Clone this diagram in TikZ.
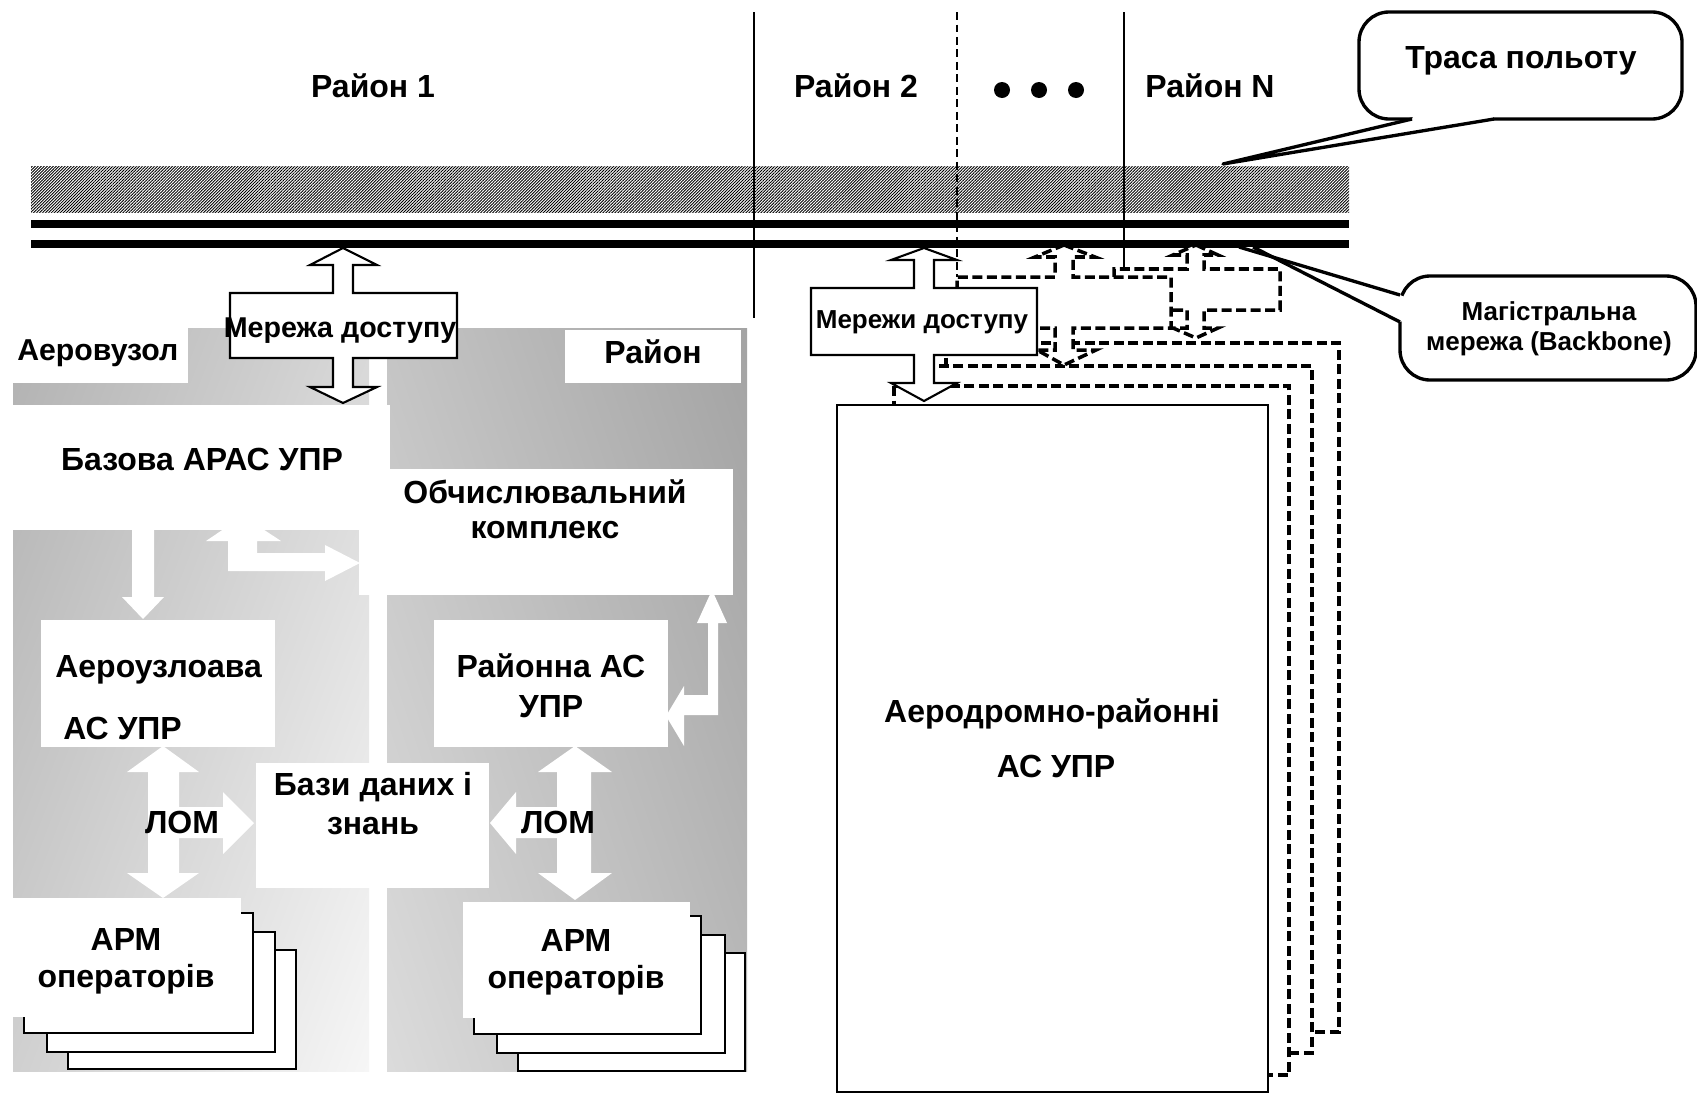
\documentclass[tikz,border=0pt]{standalone}
\usepackage{fontspec}
\setmainfont{Liberation Sans}
\usetikzlibrary{patterns.meta}
\pgfdeclarefunctionalshading{leftgrad}{\pgfpoint{-50bp}{-50bp}}{\pgfpoint{50bp}{50bp}}{}{
  -0.0024 mul exch 0.0030 mul add 0.83 add dup dup
}
\pgfdeclarefunctionalshading{rightgrad}{\pgfpoint{-50bp}{-50bp}}{\pgfpoint{50bp}{50bp}}{}{
  -0.0018 mul exch -0.0026 mul add 0.75 add dup dup
}
\newcommand{\FBig}{\fontsize{18.2}{22}\selectfont\bfseries}
\newcommand{\FLab}{\fontsize{17.2}{21}\selectfont\bfseries}
\newcommand{\FMid}{\fontsize{16.3}{19}\selectfont\bfseries}
\newcommand{\FSml}{\fontsize{14.8}{18}\selectfont\bfseries}
\newcommand{\FCal}{\fontsize{14.8}{18}\selectfont\bfseries}
\begin{document}
\begin{tikzpicture}[x=0.02cm,y=-0.02cm,
  txt/.style={inner sep=0pt, anchor=base, font=\FBig},
  stackbox/.style={fill=white, draw=black, line width=1pt},
  outl/.style={fill=white, draw=black, line width=1.2pt, line join=miter},
  ghost/.style={fill=white, draw=black, line width=2pt, dash pattern=on 0.2cm off 0.09cm},
  callout/.style={fill=white, draw=black, line width=1.9pt},
  tail/.style={draw=black, line width=1.9pt, line join=round}
]
\useasboundingbox (0,0) rectangle (1697,1096);
\fill[white] (0,0) rectangle (1697,1096);

% gradient areas
\shade[shading=leftgrad] (13,328) rectangle (369,1071);
\shade[shading=rightgrad] (387,328) rectangle (747,1071);

% district separators
\draw[line width=1.1pt] (754,12) -- (754,318);
\draw[line width=1.1pt] (1124,12) -- (1124,269);
\draw[line width=1.6pt, dash pattern=on 0.16cm off 0.09cm] (957,12) -- (957,277);

% flight route band and backbone
\fill[pattern={Lines[angle=45,distance=1.2pt,line width=0.5pt]}] (31,166) rectangle (1349,212);
\fill (31,220) rectangle (1349,228);
\fill (31,240) rectangle (1349,248);

% district labels
\node[txt] (r1) at (373,97) {Район 1};
\node[txt] (r2) at (856,97) {Район 2};
\node[txt] (rn) at (1210,97) {Район N};
\fill (1002,90) circle [radius=0.16cm];
\fill (1039,90) circle [radius=0.16cm];
\fill (1076,90) circle [radius=0.16cm];

% ---------- left part ----------
\fill[white] (13,328) rectangle (188,383);
\fill[white] (565,330) rectangle (741,383);
\node[txt, anchor=base west, font=\FLab] (aerovuzol) at (17,360) {Аеровузол};
\node[txt] (rayon) at (653,363) {Район};

% white block arrows
\fill[white] (132,520) -- (154,520) -- (154,597) -- (164,597) -- (143,619) -- (122,597) -- (132,597) -- cycle;
\fill[white] (243,516) -- (281,541) -- (257,541) -- (257,553) -- (325,553) -- (325,545) -- (360,563) -- (325,581) -- (325,571) -- (228,571) -- (228,541) -- (206,541) -- cycle;
\fill[white] (712,590) -- (727,623) -- (718,623) -- (718,715) -- (684,715) -- (684,746) -- (666,716) -- (684,686) -- (684,695) -- (708,695) -- (708,623) -- (697,623) -- cycle;
\fill[white] (163,746) -- (199,772) -- (179,772) -- (179,807) -- (223,807) -- (223,792) -- (254,823) -- (223,854) -- (223,838) -- (179,838) -- (179,873) -- (199,873) -- (163,898) -- (127,873) -- (148,873) -- (148,772) -- (127,772) -- cycle;
\fill[white] (575,746) -- (612,772) -- (591,772) -- (591,873) -- (612,873) -- (575,900) -- (538,873) -- (557,873) -- (557,838) -- (516,838) -- (516,854) -- (490,823) -- (516,792) -- (516,807) -- (557,807) -- (557,772) -- (538,772) -- cycle;

% white boxes
\fill[white] (13,405) rectangle (390,530);
\fill[white] (359,469) rectangle (733,595);
\fill[white] (41,620) rectangle (275,747);
\fill[white] (434,620) rectangle (668,747);
\fill[white] (256,763) rectangle (489,888);

\node[txt] (bazova) at (202,470) {Базова АРАС УПР};
\node[txt] (obch1) at (545,503) {Обчислювальний};
\node[txt] (obch2) at (545,538) {комплекс};
\node[txt, anchor=base west] (aeroz1) at (55,677) {Аероузлоава};
\node[txt, anchor=base west] (aeroz2) at (63,739) {АС УПР};
\node[txt] (rayonna1) at (551,677) {Районна АС};
\node[txt] (rayonna2) at (551,717) {УПР};
\node[txt] (bazy1) at (373,795) {Бази даних і};
\node[txt] (bazy2) at (373,834) {знань};
\node[txt] (lom1) at (182,833) {ЛОМ};
\node[txt] (lom2) at (558,833) {ЛОМ};

% operator workstations stacks
\draw[stackbox] (68,950) rectangle (296,1069);
\draw[stackbox] (47,932) rectangle (275,1052);
\draw[stackbox] (24,913) rectangle (253,1033);
\fill[white] (13,898) rectangle (241,1017);
\node[txt] (arm1a) at (126,950) {АРМ};
\node[txt] (arm1b) at (126,987) {операторів};

\draw[stackbox] (518,953) rectangle (745,1071);
\draw[stackbox] (497,935) rectangle (725,1053);
\draw[stackbox] (474,916) rectangle (701,1034);
\fill[white] (463,902) rectangle (690,1018);
\node[txt] (arm2a) at (576,951) {АРМ};
\node[txt] (arm2b) at (576,988) {операторів};

% access network (left)
\draw[outl] (343,248) -- (377,265) -- (353,265) -- (353,293) -- (457,293) -- (457,358) -- (353,358) -- (353,387) -- (377,387) -- (343,403) -- (310,387) -- (333,387) -- (333,358) -- (230,358) -- (230,293) -- (333,293) -- (333,265) -- (310,265) -- cycle;
\node[txt, font=\FMid] (md1) at (340,337) {Мережа доступу};

% ---------- right part ----------
% ghost copy B
\draw[ghost] (1196,245) -- (1218,255) -- (1204,255) -- (1204,269) -- (1280,269) -- (1280,310) -- (1204,310) -- (1204,328) -- (1218,328) -- (1196,338) -- (1173,328) -- (1187,328) -- (1187,310) -- (1114,310) -- (1114,269) -- (1187,269) -- (1187,255) -- (1173,255) -- cycle;
% ghost big boxes
\draw[ghost] (946,343) rectangle (1339,1032);
\draw[ghost] (918,366) rectangle (1312,1053);
\draw[ghost] (894,386) rectangle (1289,1075);
% ghost copy A
\draw[ghost] (1064,245) -- (1095,257) -- (1073,257) -- (1073,277) -- (1171,277) -- (1171,328) -- (1073,328) -- (1073,350) -- (1096,350) -- (1064,365) -- (1037,350) -- (1055,350) -- (1055,328) -- (957,328) -- (957,277) -- (1055,277) -- (1055,257) -- (1035,257) -- cycle;

% main big box
\draw[line width=1.2pt, fill=white] (837,405) rectangle (1268,1092);
\node[txt] (aero1) at (1052,722) {Аеродромно-районні};
\node[txt] (aero2) at (1056,777) {АС УПР};

% access networks (right)
\draw[outl] (924,248) -- (957,260) -- (934,260) -- (934,288) -- (1037,288) -- (1037,355) -- (934,355) -- (934,383) -- (957,383) -- (924,401) -- (891,383) -- (914,383) -- (914,355) -- (811,355) -- (811,288) -- (914,288) -- (914,260) -- (891,260) -- cycle;
\node[txt, font=\FSml] (md2) at (922,328) {Мережи доступу};

% ---------- callouts ----------
\draw[callout, rounded corners=0.6cm] (1359,12) rectangle (1682,119);
\fill[white] (1415,114) -- (1491,114) -- (1494,119) -- (1223,164) -- (1412,119) -- cycle;
\draw[tail] (1412,119) -- (1223,164) -- (1494,119);
\node[txt] (trasa) at (1521,68) {Траса польоту};

\draw[callout, rounded corners=0.6cm] (1400,276) rectangle (1696,380);
\fill[white] (1405,297) -- (1405,320) -- (1400,322) -- (1253,247) -- (1239,247) -- (1400,295) -- cycle;
\draw[tail] (1400,295) -- (1239,247);
\draw[tail] (1253,247) -- (1400,322);
\node[txt, font=\FCal] (mag1) at (1549,320) {Магістральна};
\node[txt, font=\FCal] (mag2) at (1549,350) {мережа (Backbone)};
\end{tikzpicture}
\end{document}
